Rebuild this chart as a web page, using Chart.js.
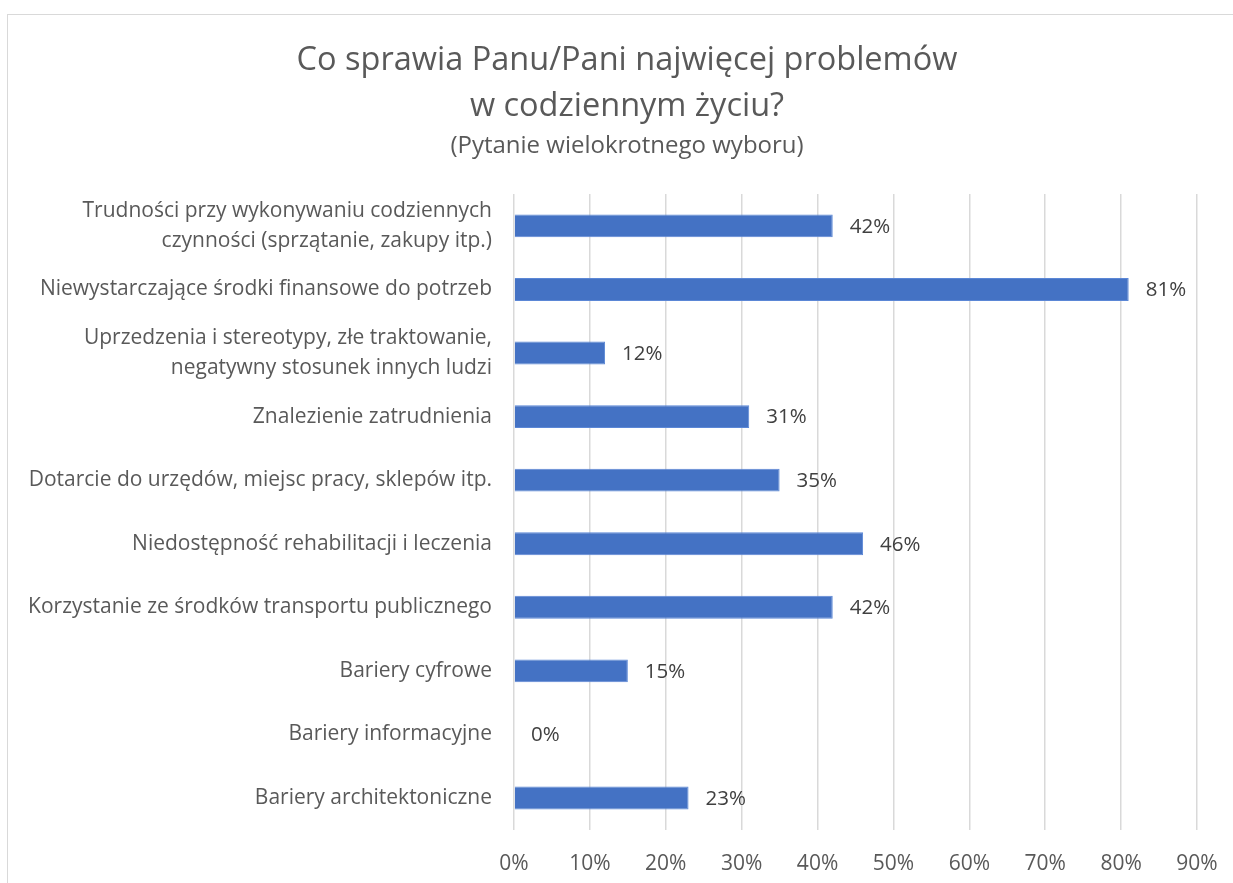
<!DOCTYPE html>
<html>
<head>
<meta charset="utf-8">
<script src="https://cdn.jsdelivr.net/npm/chart.js@4"></script>
<style>
  html, body { margin: 0; padding: 0; background: #fff; overflow: hidden; }
  #wrap { position: absolute; left: 7px; top: 14px; width: 1240px; height: 890px;
          border: 1px solid #d9d9d9; box-sizing: border-box; }
</style>
</head>
<body>
<div id="wrap"><canvas id="chart"></canvas></div>
<script>
const categories = [
  ["Trudności przy wykonywaniu codziennych", "czynności (sprzątanie, zakupy itp.)"],
  "Niewystarczające środki finansowe do potrzeb",
  ["Uprzedzenia i stereotypy, złe traktowanie,", "negatywny stosunek innych ludzi"],
  "Znalezienie zatrudnienia",
  "Dotarcie do urzędów, miejsc pracy, sklepów itp.",
  "Niedostępność rehabilitacji i leczenia",
  "Korzystanie ze środków transportu publicznego",
  "Bariery cyfrowe",
  "Bariery informacyjne",
  "Bariery architektoniczne"
];
const values = [0.42, 0.81, 0.12, 0.31, 0.35, 0.46, 0.42, 0.15, 0.00, 0.23];
const titleLines = ["Co sprawia Panu/Pani najwięcej problemów", "w codziennym życiu?"];
const subtitleText = "(Pytanie wielokrotnego wyboru)";

const FONT = "'Open Sans', sans-serif";
const TEXT = "#595959";

const valueLabels = {
  id: 'valueLabels',
  afterDatasetsDraw: (chart) => {
    const { ctx } = chart;
    const meta = chart.getDatasetMeta(0);
    ctx.save();
    ctx.font = "20.5px " + FONT;
    ctx.fillStyle = "#404040";
    ctx.textAlign = "left";
    ctx.textBaseline = "middle";
    meta.data.forEach((bar, i) => {
      const v = chart.data.datasets[0].data[i];
      ctx.fillText(Math.round(v * 100) + "%", bar.x + 17, bar.y + 1);
    });
    ctx.restore();
  }
};

const ctx = document.getElementById("chart").getContext("2d");
new Chart(ctx, {
  type: "bar",
  data: {
    labels: categories,
    datasets: [{
      data: values,
      backgroundColor: "#4472C4",
      borderColor: "#5b87d6",
      borderWidth: 1,
      categoryPercentage: 0.72,
      barPercentage: 0.5
    }]
  },
  plugins: [valueLabels],
  options: {
    indexAxis: "y",
    responsive: true,
    maintainAspectRatio: false,
    animation: false,
    layout: { padding: { left: 0, right: 0, top: 0, bottom: 4 } },
    plugins: {
      legend: { display: false },
      tooltip: { enabled: false },
      title: {
        display: true,
        text: titleLines,
        color: TEXT,
        font: { family: FONT, size: 32.5, weight: "normal", lineHeight: 1.42 },
        padding: { top: 23, bottom: 1 }
      },
      subtitle: {
        display: true,
        text: subtitleText,
        color: TEXT,
        font: { family: FONT, size: 24, weight: "normal", lineHeight: 1.2 },
        padding: { top: 0, bottom: 34 }
      }
    },
    scales: {
      x: {
        min: 0,
        max: 0.9,
        ticks: {
          stepSize: 0.1,
          color: TEXT,
          padding: 22,
          font: { family: FONT, size: 21 },
          callback: (v) => Math.round(v * 100) + "%"
        },
        grid: { color: "#d9d9d9", lineWidth: 1.5, drawTicks: false },
        border: { display: false }
      },
      y: {
        afterFit: (scale) => { scale.width = 506; },
        ticks: {
          autoSkip: false,
          color: TEXT,
          padding: 22,
          font: { family: FONT, size: 21, lineHeight: 1.43 }
        },
        grid: { display: false, drawTicks: false },
        border: { display: false }
      },
      // empty right-hand axis that only reserves the margin right of the plot
      yRight: {
        type: "category",
        position: "right",
        afterFit: (scale) => { scale.width = 49; },
        ticks: { display: false },
        grid: { display: false, drawTicks: false },
        border: { display: false }
      }
    }
  }
});
</script>
</body>
</html>
